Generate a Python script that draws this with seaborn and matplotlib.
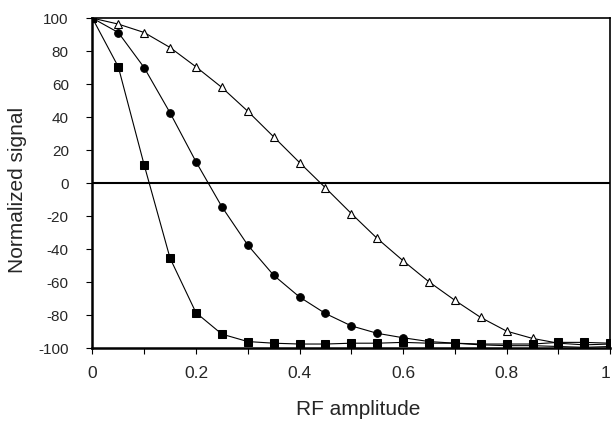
import numpy as np
import pandas as pd
import matplotlib
matplotlib.use("Agg")
import matplotlib.pyplot as plt
import seaborn as sns

# RF amplitude values (x)
rf_amp = [0, 0.05, 0.1, 0.15, 0.2, 0.25, 0.3, 0.35, 0.4, 0.45, 0.5,
          0.55, 0.6, 0.65, 0.7, 0.75, 0.8, 0.85, 0.9, 0.95, 1.0]

# normalized signal
squares = [100, 70.5, 11, -45.5, -78.5, -91.5, -96, -97, -97.5, -97.5, -97,
           -97, -96.5, -97, -97, -97.5, -97.5, -97.5, -96.5, -96.5, -97]
circles = [100, 91.3, 70, 42.6, 13, -14.3, -37.5, -55.8, -69, -79, -86.5,
           -91, -93.7, -96, -97, -98, -98.5, -98.5, -99, -99.5, -99]
triangles = [100, 96.4, 91.3, 82.2, 70.5, 58, 43.6, 28.1, 12.5, -2.8, -18.4,
             -33.5, -47, -59.8, -71, -81.4, -89.7, -94.1, -97, -98, -97.5]

y_ticks = [100, 80, 60, 40, 20, 0, -20, -40, -60, -80, -100]
x_ticks = [0, 0.2, 0.4, 0.6, 0.8, 1.0]
x_labels = ['0', '0.2', '0.4', '0.6', '0.8', '1']

sns.set_style("ticks")
plt.rcParams['font.family'] = ['Liberation Sans', 'DejaVu Sans']

fig = plt.figure(figsize=(6.12, 4.22), dpi=100)
ax = fig.add_axes([0.151, 0.175, 0.846, 0.782])

line_kw = dict(color='black', linewidth=0.8, markersize=5.5, legend=False)
sns.lineplot(x=rf_amp, y=triangles, marker='^', markerfacecolor='white',
             markeredgecolor='black', markeredgewidth=0.8, ax=ax, **line_kw)
sns.lineplot(x=rf_amp, y=circles, marker='o', markerfacecolor='black',
             markeredgecolor='black', ax=ax, **line_kw)
sns.lineplot(x=rf_amp, y=squares, marker='s', markerfacecolor='black',
             markeredgecolor='black', ax=ax, **line_kw)

ax.axhline(0, color='black', linewidth=1.5, zorder=1)

ax.set_xlim(0, 1)
ax.set_ylim(-100, 100)
ax.set_xticks(np.arange(0, 1.01, 0.1), minor=True)
ax.set_xticks(x_ticks)
ax.set_xticklabels(x_labels)
ax.set_yticks(y_ticks)
ax.set_yticklabels([str(v) for v in y_ticks])
ax.tick_params(axis='both', which='both', length=4, width=0.8, color='black')
ax.tick_params(axis='x', which='major', labelsize=12.5, pad=9)
ax.tick_params(axis='y', labelsize=11, pad=13)
# keep the last x label inside the figure
ax.get_xticklabels()[-1].set_horizontalalignment('right')

for s in ax.spines.values():
    s.set_visible(True)
    s.set_color('black')
    s.set_linewidth(1.2)
ax.spines['left'].set_linewidth(1.8)
ax.spines['bottom'].set_linewidth(1.8)

ax.set_xlabel('RF amplitude', fontsize=15)
ax.set_ylabel('Normalized signal', fontsize=15)
ax.xaxis.set_label_coords(0.513, -0.158)
ax.yaxis.set_label_coords(-0.127, 0.48)

fig.savefig('out.png', dpi=100)
